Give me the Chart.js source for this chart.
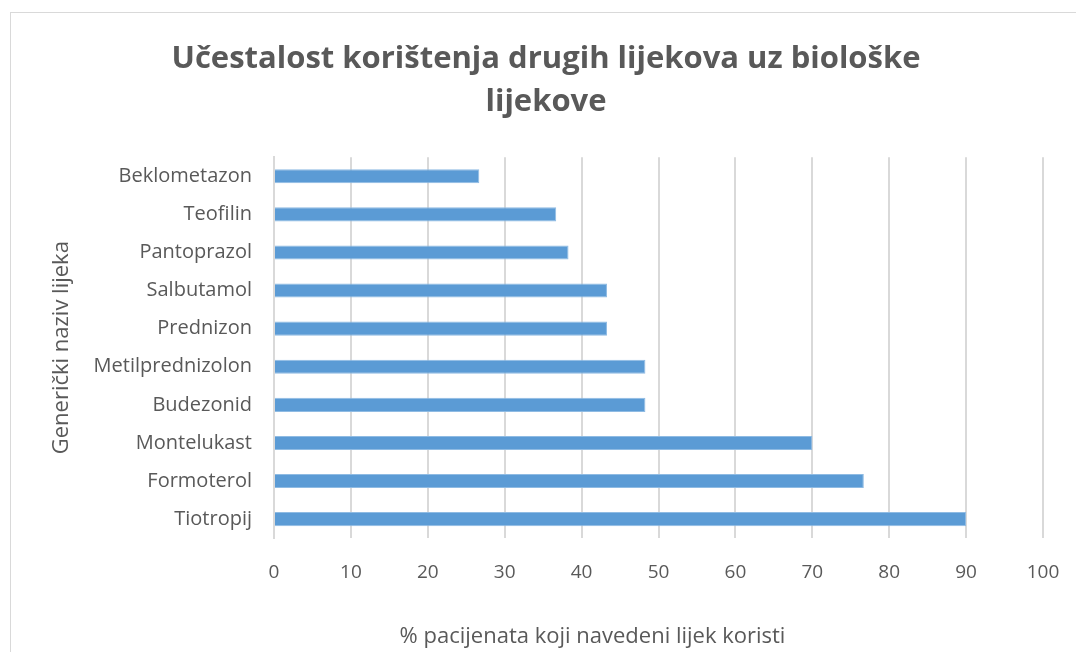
<!DOCTYPE html>
<html>
<head>
<meta charset="utf-8">
<script src="https://cdn.jsdelivr.net/npm/chart.js@4.4.1/dist/chart.umd.min.js"></script>
<style>
  html, body { margin: 0; padding: 0; background: #fff; overflow: hidden; }
  #frame { position: absolute; left: 10px; top: 12px; width: 1200px; height: 800px; border: 1px solid #d9d9d9; }
  #wrap { position: absolute; left: 0; top: 0; width: 1076px; height: 652px; }
</style>
</head>
<body>
<div id="frame"></div>
<div id="wrap"><canvas id="barChart"></canvas></div>
<script>
// categories, top to bottom as in the picture
const lijekovi = [
    'Beklometazon',
    'Teofilin',
    'Pantoprazol',
    'Salbutamol',
    'Prednizon',
    'Metilprednizolon',
    'Budezonid',
    'Montelukast',
    'Formoterol',
    'Tiotropij',
];
// % pacijenata
const postotci = [26.7, 36.7, 38.3, 43.3, 43.3, 48.3, 48.3, 70, 76.7, 90];
const xTicks = [0, 10, 20, 30, 40, 50, 60, 70, 80, 90, 100];

const naslov = ['Učestalost korištenja drugih lijekova uz biološke', 'lijekove'];
const xNaslov = '% pacijenata koji navedeni lijek koristi';
const yNaslov = 'Generički naziv lijeka';

const siva = '#595959';
const mreza = '#d9d9d9';
const font = '"Open Sans", sans-serif';

// x axis title sits left of the plot centre, like Excel does it
const xTitlePlugin = {
    id: 'xTitle',
    afterDraw(chart) {
        const ctx = chart.ctx;
        const a = chart.chartArea;
        ctx.save();
        ctx.font = '22px ' + font;
        ctx.fillStyle = siva;
        ctx.textAlign = 'center';
        ctx.textBaseline = 'middle';
        ctx.fillText(xNaslov, (a.left + a.right) / 2 - 66, chart.height - 15);
        ctx.restore();
    }
};

function getChart() {
    const data = {
        labels: lijekovi,
        datasets: [{
            data: postotci,
            backgroundColor: '#5b9bd5',
            borderColor: '#8fbbe3',
            borderWidth: 1,
            categoryPercentage: 1,
            barPercentage: 0.37,
        }]
    };
    const config = {
        type: 'bar',
        data,
        options: {
            indexAxis: 'y',
            responsive: true,
            maintainAspectRatio: false,
            animation: false,
            layout: { padding: { left: 49, right: 33, top: 0, bottom: 45 } },
            plugins: {
                legend: { display: false },
                tooltip: { enabled: false },
                title: {
                    display: true,
                    text: naslov,
                    color: siva,
                    font: { family: font, size: 31, weight: 'bold', lineHeight: 1.39 },
                    padding: { top: 38, bottom: 33 },
                },
            },
            scales: {
                x: {
                    min: 0,
                    max: 100,
                    afterBuildTicks(scale) {
                        scale.ticks = xTicks.map(v => ({ value: v }));
                    },
                    afterFit(scale) {
                        scale.paddingRight = 0;
                    },
                    grid: { color: mreza, lineWidth: 2, drawTicks: false },
                    border: { display: false },
                    ticks: { color: siva, font: { family: font, size: 19 }, padding: 23 },
                },
                y: {
                    afterFit(scale) {
                        scale.width = 225;
                    },
                    grid: { display: false, drawTicks: false },
                    border: { display: true, color: mreza, width: 2 },
                    ticks: { color: siva, font: { family: font, size: 20 }, padding: 22 },
                    title: {
                        display: true,
                        text: yNaslov,
                        color: siva,
                        font: { family: font, size: 22 },
                        padding: { top: 0, bottom: 0 },
                    },
                },
            },
        },
        plugins: [xTitlePlugin],
    };
    new Chart(document.getElementById('barChart'), config);
}
getChart();
</script>
</body>
</html>
